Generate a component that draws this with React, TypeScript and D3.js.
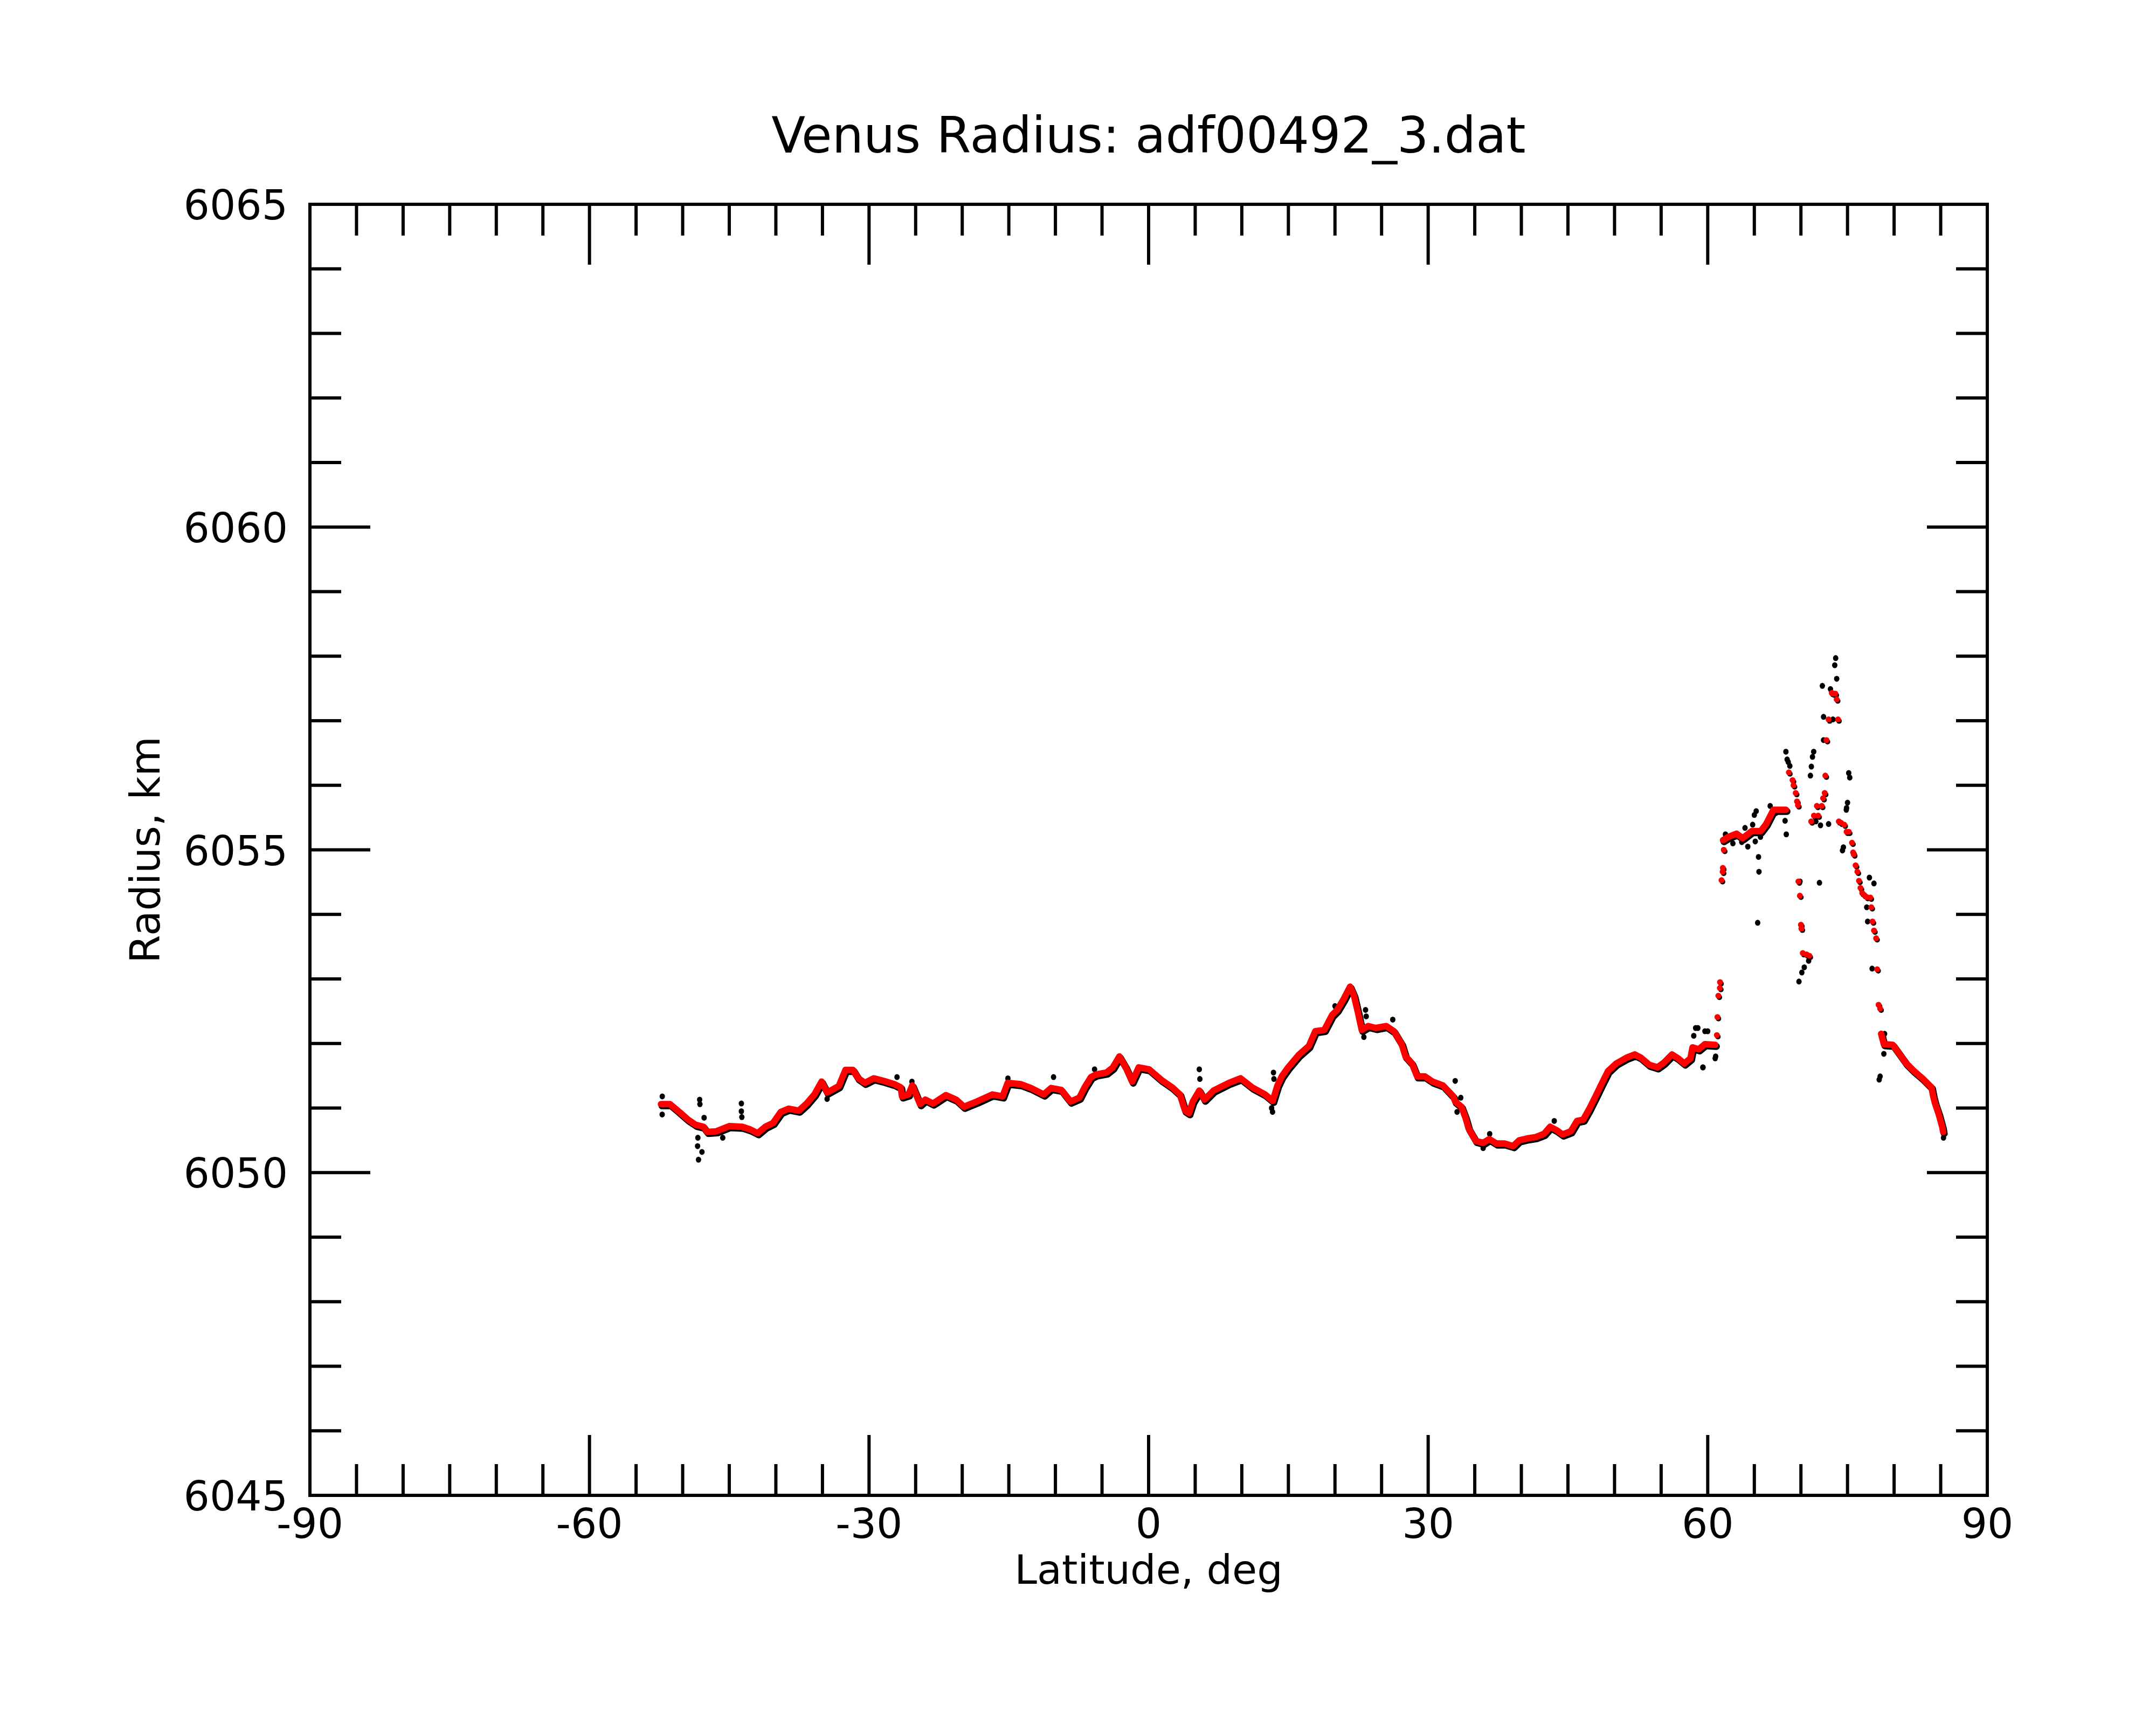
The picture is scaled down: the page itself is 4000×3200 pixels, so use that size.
import * as d3 from 'd3';

// Latitude (deg) vs radius (km)
const redMain: [number, number][] = [
  [-52.33, 6051.06], [-51.36, 6051.06], [-50.53, 6050.96], [-49.42, 6050.82], [-48.59, 6050.74],
  [-47.77, 6050.71], [-47.35, 6050.63], [-46.38, 6050.64], [-45.0, 6050.72], [-43.61, 6050.71],
  [-42.78, 6050.67], [-41.95, 6050.61], [-41.12, 6050.71], [-40.29, 6050.77], [-39.47, 6050.94],
  [-38.64, 6050.99], [-37.53, 6050.96], [-36.7, 6051.07], [-35.87, 6051.21], [-35.09, 6051.41],
  [-34.49, 6051.24], [-33.25, 6051.34], [-32.53, 6051.59], [-31.72, 6051.59], [-31.15, 6051.46],
  [-30.45, 6051.39], [-29.5, 6051.46], [-28.4, 6051.42], [-27.29, 6051.37], [-26.6, 6051.32],
  [-26.46, 6051.18], [-25.77, 6051.21], [-25.36, 6051.35], [-24.52, 6051.06], [-23.97, 6051.13],
  [-23.14, 6051.07], [-21.76, 6051.2], [-20.65, 6051.13], [-19.82, 6051.02], [-18.44, 6051.1],
  [-16.77, 6051.21], [-15.67, 6051.18], [-15.12, 6051.39], [-13.74, 6051.37], [-12.63, 6051.31],
  [-11.25, 6051.21], [-10.47, 6051.31], [-9.37, 6051.28], [-8.39, 6051.1], [-7.43, 6051.16],
  [-6.87, 6051.32], [-6.18, 6051.48], [-5.63, 6051.52], [-4.52, 6051.55], [-3.83, 6051.63],
  [-3.14, 6051.8], [-2.45, 6051.63], [-1.76, 6051.41], [-1.06, 6051.63], [0.04, 6051.6],
  [1.42, 6051.43], [2.53, 6051.32], [3.36, 6051.21], [3.91, 6050.96], [4.33, 6050.92],
  [4.74, 6051.1], [5.44, 6051.27], [5.99, 6051.13], [6.96, 6051.27], [8.62, 6051.39],
  [9.87, 6051.46], [11.11, 6051.32], [12.5, 6051.21], [13.32, 6051.11], [13.83, 6051.35],
  [14.29, 6051.49], [14.98, 6051.63], [16.09, 6051.82], [17.19, 6051.96], [17.89, 6052.19],
  [18.86, 6052.21], [19.69, 6052.44], [20.24, 6052.52], [20.94, 6052.69], [21.62, 6052.88],
  [22.04, 6052.74], [22.45, 6052.49], [22.87, 6052.21], [23.56, 6052.27], [24.39, 6052.24],
  [25.5, 6052.27], [26.32, 6052.19], [27.16, 6051.99], [27.57, 6051.8], [28.26, 6051.69],
  [28.82, 6051.49], [29.64, 6051.49], [30.47, 6051.41], [31.58, 6051.35], [32.69, 6051.18],
  [32.91, 6051.1], [33.57, 6051.02], [34.01, 6050.85], [34.35, 6050.68], [35.12, 6050.49],
  [35.9, 6050.46], [36.56, 6050.52], [37.33, 6050.45], [38.22, 6050.45], [39.11, 6050.41],
  [39.77, 6050.5], [40.66, 6050.53], [41.54, 6050.55], [42.43, 6050.6], [43.09, 6050.71],
  [43.75, 6050.66], [44.42, 6050.59], [45.31, 6050.64], [45.97, 6050.8], [46.64, 6050.82],
  [47.3, 6050.99], [47.96, 6051.18], [48.63, 6051.38], [49.29, 6051.57], [50.18, 6051.69],
  [51.28, 6051.78], [52.17, 6051.83], [52.83, 6051.78], [53.72, 6051.67], [54.6, 6051.63],
  [55.27, 6051.7], [56.16, 6051.83], [56.82, 6051.77], [57.48, 6051.69], [58.15, 6051.77],
  [58.37, 6051.94], [59.03, 6051.91], [59.7, 6051.99], [60.81, 6051.98],
];

const redHigh: [number, number][] = [
  [61.64, 6055.15], [62.2, 6055.2], [63.09, 6055.25], [63.75, 6055.18], [64.73, 6055.29],
  [65.69, 6055.29], [66.27, 6055.4], [66.66, 6055.51], [67.05, 6055.62], [68.39, 6055.62],
];

const redTail: [number, number][] = [
  [78.61, 6052.15], [78.9, 6051.99], [79.86, 6051.98], [81.31, 6051.69], [82.08, 6051.58],
  [83.04, 6051.46], [84.01, 6051.32], [84.2, 6051.18], [84.4, 6051.07], [84.78, 6050.91],
  [85.16, 6050.71], [85.26, 6050.63],
];

const redDots: [number, number][] = [
  [60.98, 6052.13], [61.04, 6052.41], [61.14, 6052.74], [61.32, 6052.95], [61.3, 6052.86],
  [61.48, 6054.53], [61.6, 6054.66], [61.62, 6054.72], [61.72, 6055.0],
  [68.71, 6056.2], [69.1, 6056.08], [69.21, 6056.0], [69.44, 6055.88], [69.58, 6055.75], [69.68, 6055.69],
  [69.73, 6054.51], [69.89, 6054.29], [70.0, 6053.84], [70.05, 6053.78], [70.2, 6053.4],
  [70.6, 6053.38], [70.9, 6053.36],
  [71.1, 6055.44], [71.4, 6055.53], [71.85, 6055.53], [71.71, 6055.68], [72.23, 6055.68],
  [72.38, 6055.8], [72.55, 6055.88], [72.62, 6056.15], [72.74, 6056.7], [72.97, 6057.02],
  [73.31, 6057.43], [73.5, 6057.42], [73.69, 6057.42], [73.84, 6057.33], [73.98, 6057.02],
  [74.07, 6055.44], [74.3, 6055.42], [74.65, 6055.39], [74.9, 6055.28], [75.13, 6055.28],
  [75.48, 6055.11], [75.6, 6054.96], [75.67, 6054.93], [75.87, 6054.76], [76.06, 6054.66],
  [76.23, 6054.52], [76.39, 6054.41], [76.58, 6054.33], [76.8, 6054.3], [77.06, 6054.27],
  [77.45, 6054.26], [77.55, 6054.11], [77.68, 6053.89], [77.84, 6053.75], [78.07, 6053.63],
  [78.18, 6053.15], [78.33, 6052.6], [78.5, 6052.54],
];

const blackDots: [number, number][] = [
  [-52.19, 6051.18], [-52.2, 6050.9], [-48.18, 6051.13], [-48.15, 6051.06], [-47.7, 6050.85],
  [-48.37, 6050.54], [-48.4, 6050.41], [-47.93, 6050.32], [-48.3, 6050.2], [-45.7, 6050.54],
  [-43.7, 6051.07], [-43.7, 6050.95], [-43.65, 6050.86], [-34.5, 6051.14], [-27.0, 6051.48],
  [-25.4, 6051.41], [-15.1, 6051.46], [-10.2, 6051.48], [-5.8, 6051.6], [5.44, 6051.6],
  [5.5, 6051.45], [13.4, 6051.55], [13.45, 6051.45], [13.3, 6050.94], [13.2, 6051.0],
  [20.0, 6052.58], [23.28, 6052.52], [23.35, 6052.42], [23.1, 6052.1], [26.2, 6052.37],
  [32.9, 6051.42], [33.5, 6051.16], [33.1, 6050.94], [35.9, 6050.38], [36.6, 6050.6],
  [43.53, 6050.8], [58.7, 6052.24], [58.5, 6052.12], [60.0, 6052.19], [59.47, 6051.63],
  [60.8, 6051.77], [60.85, 6051.8], [59.5, 6051.63], [59.7, 6052.19], [58.94, 6052.24],
  [69.79, 6052.96], [70.1, 6053.1], [70.83, 6053.28], [70.36, 6053.18], [71.99, 6054.49],
  [65.36, 6053.87], [65.45, 6054.89], [65.5, 6054.66], [61.9, 6055.24], [62.7, 6055.1],
  [63.65, 6055.12], [64.0, 6055.34], [64.3, 6055.05], [64.82, 6055.39], [65.1, 6055.13],
  [65.66, 6055.2], [65.0, 6055.54], [65.2, 6055.6], [68.3, 6055.45], [68.43, 6055.24],
  [67.3, 6055.57], [66.7, 6055.68], [68.39, 6056.52], [68.52, 6056.4], [68.64, 6056.36],
  [68.81, 6056.3], [71.37, 6056.52], [71.24, 6056.44], [71.12, 6056.29], [71.02, 6056.15],
  [75.13, 6056.19], [75.24, 6056.12], [75.0, 6055.73], [74.9, 6055.65], [74.87, 6055.62],
  [71.6, 6055.44], [72.1, 6055.38], [72.97, 6055.4], [72.43, 6057.06], [73.44, 6057.02],
  [72.43, 6056.7], [72.3, 6057.54], [73.17, 6057.49], [73.73, 6057.97], [73.63, 6057.86],
  [73.84, 6057.65], [74.56, 6055.04], [74.46, 6054.99], [77.35, 6054.57], [77.84, 6054.48],
  [77.06, 6054.11], [77.16, 6053.89], [77.64, 6053.16], [78.9, 6051.84], [78.5, 6051.49],
  [78.4, 6051.44], [78.98, 6052.15], [85.3, 6050.54], [69.9, 6054.51],
];

const xTickValues = [-90, -60, -30, 0, 30, 60, 90];
const xTickLabels = ['-90', '-60', '-30', '0', '30', '60', '90'];
const yTickValues = [6045, 6050, 6055, 6060, 6065];
const yTickLabels = ['6045', '6050', '6055', '6060', '6065'];

const W = 4000;
const H = 3200;
const left = 575, right = 3687, top = 379, bottom = 2774;
const FONT = '"DejaVu Sans", Verdana, sans-serif';

export default function App() {
  const x = d3.scaleLinear().domain([-90, 90]).range([left, right]);
  const y = d3.scaleLinear().domain([6045, 6065]).range([bottom, top]);
  const line = d3.line<[number, number]>().x(d => x(d[0])).y(d => y(d[1]));

  const xMinor = d3.range(-85, 90, 5);
  const yMinor = d3.range(6046, 6065, 1);
  const minorLen = 58;
  const majorLen = 112;

  const segments = [redMain, redHigh, redTail];

  return (
    <svg width={W} height={H} style={{ position: 'absolute', left: 0, top: 0, background: '#fff' }}>
      <rect width={W} height={H} fill="#fff" />

      {/* raw points (black) under the fitted points (red) */}
      <g transform="translate(2,3)">
        {segments.map((s, i) => (
          <path key={i} d={line(s) || ''} fill="none" stroke="#000" strokeWidth={13}
            strokeLinejoin="round" strokeLinecap="round" />
        ))}
        {redDots.map((d, i) => (
          <circle key={i} cx={x(d[0])} cy={y(d[1])} r={5} fill="#000" />
        ))}
      </g>
      {blackDots.map((d, i) => (
        <ellipse key={i} cx={x(d[0])} cy={y(d[1])} rx={5} ry={5.5} fill="#000" />
      ))}
      {segments.map((s, i) => (
        <path key={i} d={line(s) || ''} fill="none" stroke="#ff0000" strokeWidth={12}
          strokeLinejoin="round" strokeLinecap="round" />
      ))}
      {redDots.map((d, i) => (
        <circle key={i} cx={x(d[0])} cy={y(d[1])} r={5.5} fill="#ff0000" />
      ))}

      {/* ticks */}
      <g stroke="#000" strokeWidth={6}>
        {xMinor.map(v => {
          const len = v % 30 === 0 ? majorLen : minorLen;
          return (
            <g key={v}>
              <line x1={x(v)} x2={x(v)} y1={bottom} y2={bottom - len} />
              <line x1={x(v)} x2={x(v)} y1={top} y2={top + len} />
            </g>
          );
        })}
        {yMinor.map(v => {
          const len = v % 5 === 0 ? majorLen : minorLen;
          return (
            <g key={v}>
              <line x1={left} x2={left + len} y1={y(v)} y2={y(v)} />
              <line x1={right} x2={right - len} y1={y(v)} y2={y(v)} />
            </g>
          );
        })}
      </g>
      <rect x={left} y={top} width={right - left} height={bottom - top}
        fill="none" stroke="#000" strokeWidth={6} />

      {/* tick labels */}
      <g fontFamily={FONT} fontSize={76} fill="#000">
        {xTickValues.map((v, i) => (
          <text key={v} x={x(v)} y={bottom + 79} textAnchor="middle">{xTickLabels[i]}</text>
        ))}
        {yTickValues.map((v, i) => (
          <text key={v} x={left - 41} y={y(v) + 28} textAnchor="end">{yTickLabels[i]}</text>
        ))}
      </g>

      <text x={(left + right) / 2} y={283} textAnchor="middle" fontFamily={FONT} fontSize={92}>
        Venus Radius: adf00492_3.dat
      </text>
      <text x={(left + right) / 2} y={2938} textAnchor="middle" fontFamily={FONT} fontSize={75}>
        Latitude, deg
      </text>
      <text transform={`translate(296,${(top + bottom) / 2}) rotate(-90)`} textAnchor="middle"
        fontFamily={FONT} fontSize={76}>
        Radius, km
      </text>
    </svg>
  );
}
